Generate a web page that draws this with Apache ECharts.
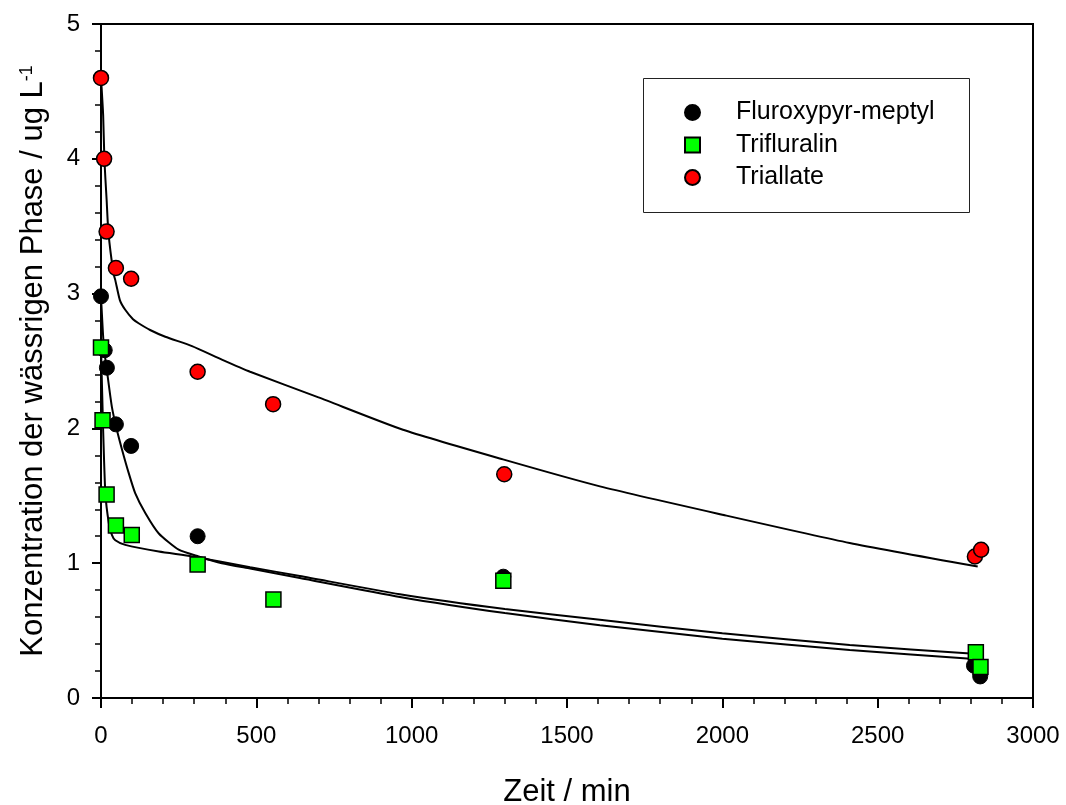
<!DOCTYPE html>
<html>
<head>
<meta charset="utf-8">
<script src="https://cdn.jsdelivr.net/npm/echarts@6/dist/echarts.min.js"></script>
<style>
  html, body { margin: 0; padding: 0; background: #fff; }
  #chart { width: 1066px; height: 805px; }
</style>
</head>
<body>
<div id="chart"></div>
<script>
// measured points [time in min, concentration]
const fluroxypyrPts = [[0, 2.98], [12, 2.58], [19, 2.45], [48, 2.03], [97, 1.87], [311, 1.20], [1295, 0.90], [2810, 0.24], [2830, 0.16]];
const trifluralinPts = [[0, 2.60], [5, 2.06], [18, 1.51], [48, 1.28], [99, 1.21], [311, 0.99], [555, 0.73], [1295, 0.87], [2816, 0.34], [2831, 0.23]];
const triallatePts = [[0, 4.60], [10, 4.00], [18, 3.46], [48, 3.19], [97, 3.11], [311, 2.42], [554, 2.18], [1298, 1.66], [2813, 1.05], [2833, 1.10]];

// fitted curves
const fluroxypyrFit = [[0, 2.98], [9, 2.61], [19, 2.43], [35, 2.16], [51, 1.99], [68, 1.84], [89, 1.67], [110, 1.52], [143, 1.37], [186, 1.22], [250, 1.10], [314, 1.05], [389, 1.00], [480, 0.96], [640, 0.89], [962, 0.75], [1300, 0.63], [1606, 0.54], [2000, 0.44], [2410, 0.356], [2822, 0.287]];
const trifluralinFit = [[0, 2.62], [6, 2.06], [14, 1.52], [25, 1.30], [35, 1.21], [46, 1.17], [78, 1.136], [186, 1.086], [293, 1.05], [480, 0.97], [640, 0.905], [962, 0.77], [1300, 0.66], [1606, 0.58], [2000, 0.48], [2410, 0.393], [2822, 0.327]];
const triallateFit = [[0, 4.60], [7, 4.32], [11, 3.99], [18, 3.70], [24, 3.45], [40, 3.15], [46, 3.10], [61, 2.95], [78, 2.88], [103, 2.81], [121, 2.78], [158, 2.73], [207, 2.68], [293, 2.61], [389, 2.51], [480, 2.42], [700, 2.23], [972, 1.99], [1294, 1.77], [1606, 1.57], [2000, 1.36], [2410, 1.15], [2822, 0.975]];

const seriesNames = ['Fluroxypyr-meptyl', 'Trifluralin', 'Triallate'];

const font = '"Liberation Sans", Arial, sans-serif';

let myChart = echarts.init(document.getElementById('chart'));

function fitLine(name, data) {
  return {
    name: name,
    type: 'line',
    data: data,
    symbol: 'none',
    smooth: 0.2,
    silent: true,
    z: 1,
    lineStyle: { color: '#000', width: 2 }
  };
}

let option = {
  animation: false,
  backgroundColor: '#fff',
  textStyle: { fontFamily: font },
  grid: {
    left: 101,
    right: 33,
    top: 24,
    bottom: 107,
    show: true,
    borderColor: '#000',
    borderWidth: 2,
    outerBoundsMode: 'none'
  },
  legend: {
    data: seriesNames,
    orient: 'vertical',
    left: 679,
    top: 95,
    itemWidth: 15,
    itemHeight: 15,
    itemGap: 7.5,
    textStyle: { fontSize: 25, color: '#000', fontFamily: font, padding: [0, 0, 0, 31] }
  },
  graphic: [{
    type: 'rect',
    shape: { x: 643.5, y: 78.5, width: 326, height: 134 },
    style: { fill: 'none', stroke: '#222', lineWidth: 1 },
    silent: true
  }],
  xAxis: {
    type: 'value',
    min: 0,
    max: 3000,
    interval: 500,
    name: 'Zeit / min',
    nameLocation: 'middle',
    nameGap: 79,
    nameTextStyle: { fontSize: 31, color: '#000', fontFamily: font },
    axisLine: { lineStyle: { color: '#000', width: 2 } },
    axisTick: { length: 10, lineStyle: { color: '#000', width: 2 } },
    minorTick: { show: true, splitNumber: 5, length: 6, lineStyle: { color: '#000', width: 1.5 } },
    splitLine: { show: false },
    axisLabel: { fontSize: 24, color: '#000', margin: 26, fontFamily: font, formatter: (v) => String(v) }
  },
  yAxis: {
    type: 'value',
    min: 0,
    max: 5,
    interval: 1,
    name: 'Konzentration der wässrigen Phase / ug L{sup|-1}',
    nameLocation: 'middle',
    nameGap: 52,
    nameTextStyle: {
      fontSize: 31,
      color: '#000',
      fontFamily: font,
      rich: {
        sup: { fontSize: 18, verticalAlign: 'top', color: '#000', fontFamily: font }
      }
    },
    axisLine: { lineStyle: { color: '#000', width: 2 } },
    axisTick: { length: 9, lineStyle: { color: '#000', width: 2 } },
    minorTick: { show: true, splitNumber: 5, length: 6, lineStyle: { color: '#000', width: 1.5 } },
    splitLine: { show: false },
    axisLabel: { fontSize: 24, color: '#000', margin: 21, fontFamily: font }
  },
  series: [
    fitLine('fit Fluroxypyr-meptyl', fluroxypyrFit),
    fitLine('fit Trifluralin', trifluralinFit),
    fitLine('fit Triallate', triallateFit),
    {
      name: seriesNames[0],
      type: 'scatter',
      data: fluroxypyrPts,
      symbol: 'circle',
      symbolSize: 15,
      z: 2,
      itemStyle: { color: '#000', borderColor: '#000', borderWidth: 1, opacity: 1 }
    },
    {
      name: seriesNames[1],
      type: 'scatter',
      data: trifluralinPts,
      symbol: 'rect',
      symbolSize: 15,
      z: 3,
      itemStyle: { color: '#00ff00', borderColor: '#000', borderWidth: 1.5, opacity: 1 }
    },
    {
      name: seriesNames[2],
      type: 'scatter',
      data: triallatePts,
      symbol: 'circle',
      symbolSize: 15,
      z: 4,
      itemStyle: { color: '#ff0000', borderColor: '#000', borderWidth: 1.5, opacity: 1 }
    }
  ]
};

option && myChart.setOption(option);
</script>
</body>
</html>
